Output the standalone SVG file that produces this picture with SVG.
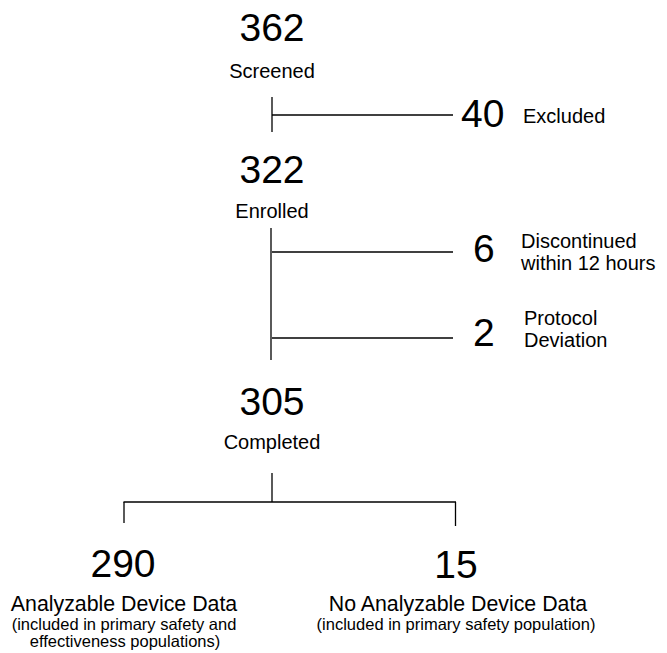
<svg xmlns="http://www.w3.org/2000/svg" width="667" height="653" viewBox="0 0 667 653">
<style>
text{font-family:"Liberation Sans",Arial,sans-serif;fill:#000}
.n{font-size:39px}
.m{text-anchor:middle}
.l{font-size:20px}
.b{font-size:22px}
.s{font-size:16.5px}
line{stroke:#000;stroke-width:1.3}
</style>
<rect width="667" height="653" fill="#fff"/>
<g id="connectors">
<line x1="272" y1="97" x2="272" y2="132"/>
<line x1="272" y1="115" x2="453" y2="115"/>
<line x1="271" y1="228" x2="271" y2="360"/>
<line x1="272" y1="252" x2="453" y2="252"/>
<line x1="272" y1="338" x2="453" y2="338"/>
<line x1="272" y1="473" x2="272" y2="502"/>
<line x1="123.5" y1="502" x2="456" y2="502"/>
<line x1="124" y1="502" x2="124" y2="523"/>
<line x1="455.5" y1="502" x2="455.5" y2="526"/>
</g>
<g id="screened">
<text class="n m" x="272" y="41">362</text>
<text class="l m" x="272" y="78">Screened</text>
</g>
<g id="excluded">
<text class="n" x="461" y="127">40</text>
<text class="l" x="523" y="123">Excluded</text>
</g>
<g id="enrolled">
<text class="n m" x="272" y="183">322</text>
<text class="l m" x="272" y="218">Enrolled</text>
</g>
<g id="discontinued">
<text class="n" x="473" y="262">6</text>
<text class="l" x="521" y="248">Discontinued</text>
<text class="l" x="521" y="270">within 12 hours</text>
</g>
<g id="deviation">
<text class="n" x="473" y="346">2</text>
<text class="l" x="524" y="325">Protocol</text>
<text class="l" x="524" y="347">Deviation</text>
</g>
<g id="completed">
<text class="n m" x="272" y="415">305</text>
<text class="l m" x="272" y="449">Completed</text>
</g>
<g id="analyzable">
<text class="n m" x="123" y="577">290</text>
<text class="b m" x="124" y="611" transform="translate(124 0) scale(0.97 1) translate(-124 0)">Analyzable Device Data</text>
<text class="s m" x="124" y="630">(included in primary safety and</text>
<text class="s m" x="125" y="647">effectiveness populations)</text>
</g>
<g id="no-analyzable">
<text class="n m" x="456" y="578">15</text>
<text class="b m" x="458" y="611" transform="translate(458 0) scale(0.97 1) translate(-458 0)">No Analyzable Device Data</text>
<text class="s m" x="456" y="630">(included in primary safety population)</text>
</g>
</svg>
